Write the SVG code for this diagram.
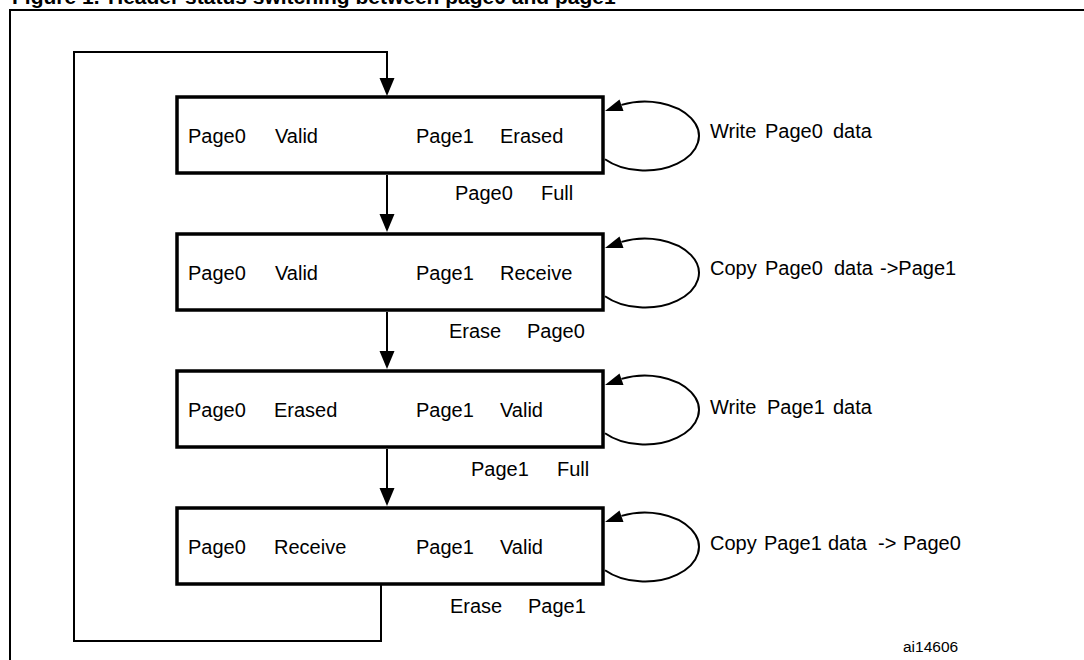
<svg xmlns="http://www.w3.org/2000/svg" width="1084" height="660" viewBox="0 0 1084 660">
<defs>
<style>
.t{font-family:"Liberation Sans",Arial,sans-serif;font-size:20px;fill:#000}
.box{fill:#fff;stroke:#000;stroke-width:3.5}
.ln{fill:none;stroke:#000;stroke-width:2}
.ah{fill:#000;stroke:none}
.title{font-family:"Liberation Sans",Arial,sans-serif;font-size:21px;font-weight:bold;fill:#000}
</style>
</defs>
<rect width="1084" height="660" fill="#fff"/>
<text class="title" x="12" y="4">Figure 1.<tspan x="108">Header status switching between page0 and page1</tspan></text>
<path d="M10,670 V10 H1094" fill="none" stroke="#000" stroke-width="2"/>

<g id="connectors">
<path class="ln" d="M381,584 V641 H74 V52 H387 V80"/>
<polygon class="ah" points="379.5,78 394.5,78 387,96"/>
<line class="ln" x1="387" y1="175" x2="387" y2="216"/>
<polygon class="ah" points="379.5,214 394.5,214 387,232"/>
<line class="ln" x1="387" y1="312" x2="387" y2="353"/>
<polygon class="ah" points="379.5,351 394.5,351 387,369"/>
<line class="ln" x1="387" y1="449" x2="387" y2="490"/>
<polygon class="ah" points="379.5,488 394.5,488 387,506"/>

<g id="loop1">
<path class="ln" d="M605,159.2 A54 34.5 0 1 0 621.5,104.9"/>
<polygon class="ah" points="605,111 623.5,111 619.5,99.5"/>
</g>
<g id="loop2">
<path class="ln" d="M605,296.2 A54 34.5 0 1 0 621.5,241.9"/>
<polygon class="ah" points="605,248 623.5,248 619.5,236.5"/>
</g>
<g id="loop3">
<path class="ln" d="M605,433.2 A54 34.5 0 1 0 621.5,378.9"/>
<polygon class="ah" points="605,385 623.5,385 619.5,373.5"/>
</g>
<g id="loop4">
<path class="ln" d="M605,570.2 A54 34.5 0 1 0 621.5,515.9"/>
<polygon class="ah" points="605,522 623.5,522 619.5,510.5"/>
</g>
</g>

<g id="state1">
<rect class="box" x="177" y="97" width="426" height="76"/>
<text class="t" y="143"><tspan x="188">Page0</tspan><tspan x="275">Valid</tspan><tspan x="416">Page1</tspan><tspan x="500">Erased</tspan></text>
</g>
<g id="state2">
<rect class="box" x="177" y="234" width="426" height="76"/>
<text class="t" y="280"><tspan x="188">Page0</tspan><tspan x="275">Valid</tspan><tspan x="416">Page1</tspan><tspan x="500">Receive</tspan></text>
</g>
<g id="state3">
<rect class="box" x="177" y="371" width="426" height="76"/>
<text class="t" y="417"><tspan x="188">Page0</tspan><tspan x="274">Erased</tspan><tspan x="416">Page1</tspan><tspan x="500">Valid</tspan></text>
</g>
<g id="state4">
<rect class="box" x="177" y="508" width="426" height="76"/>
<text class="t" y="554"><tspan x="188">Page0</tspan><tspan x="274">Receive</tspan><tspan x="416">Page1</tspan><tspan x="500">Valid</tspan></text>
</g>

<g id="labels">
<text class="t" y="200"><tspan x="455">Page0</tspan><tspan x="541">Full</tspan></text>
<text class="t" y="338"><tspan x="449">Erase</tspan><tspan x="527">Page0</tspan></text>
<text class="t" y="476"><tspan x="471">Page1</tspan><tspan x="557">Full</tspan></text>
<text class="t" y="613"><tspan x="450">Erase</tspan><tspan x="528">Page1</tspan></text>

<text class="t" y="138"><tspan x="710">Write</tspan><tspan x="765">Page0</tspan><tspan x="833">data</tspan></text>
<text class="t" y="275"><tspan x="710">Copy</tspan><tspan x="765">Page0</tspan><tspan x="834">data</tspan><tspan x="880">-&gt;Page1</tspan></text>
<text class="t" y="414"><tspan x="710">Write</tspan><tspan x="767">Page1</tspan><tspan x="833">data</tspan></text>
<text class="t" y="550"><tspan x="710">Copy</tspan><tspan x="764">Page1</tspan><tspan x="828">data</tspan><tspan x="878">-&gt;</tspan><tspan x="903">Page0</tspan></text>

<text x="903" y="652" style="font-family:'Liberation Sans',Arial,sans-serif;font-size:15.5px;fill:#000">ai14606</text>
</g>
</svg>
